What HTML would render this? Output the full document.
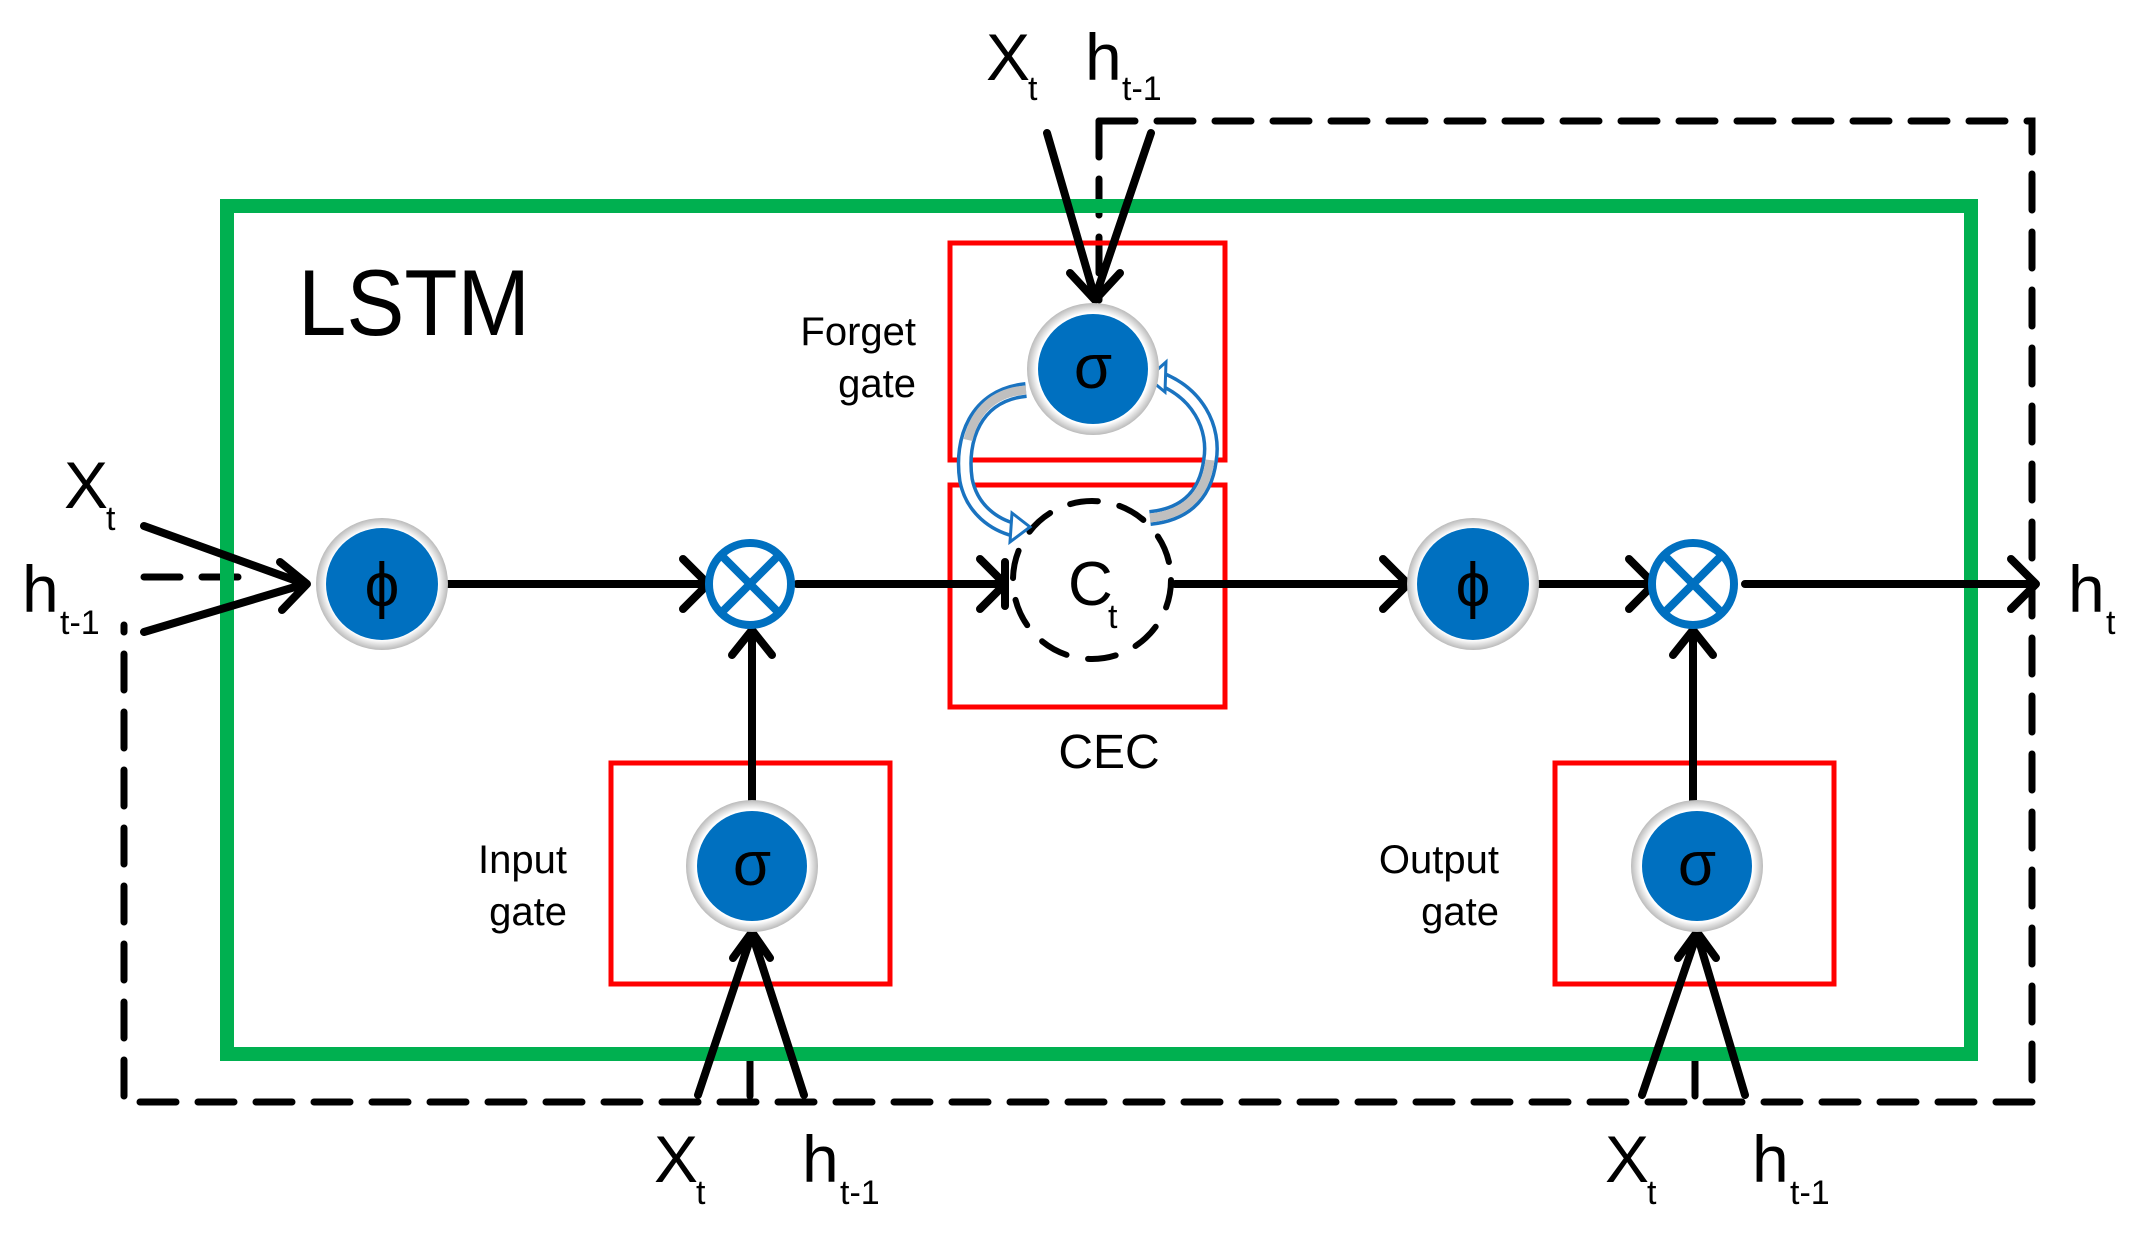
<!DOCTYPE html>
<html><head><meta charset="utf-8"><style>
html,body{margin:0;padding:0;background:#fff;}
svg{display:block;}
text{font-family:"Liberation Sans",sans-serif;fill:#000;}
</style></head><body>
<svg width="2143" height="1235" viewBox="0 0 2143 1235" xmlns="http://www.w3.org/2000/svg">
<defs>
<radialGradient id="ring" cx="50%" cy="50%" r="50%">
<stop offset="85%" stop-color="#fff"/><stop offset="100%" stop-color="#bbb"/>
</radialGradient>
</defs>
<!-- dashed outer box -->
<g stroke="#000" stroke-width="7" fill="none" stroke-dasharray="36,22" stroke-linecap="round">
<path d="M1099 121 L2032 121 L2032 1102 L124 1102 L124 625"/>
<path d="M1099 121 L1099 300"/>
<path d="M144 577 L240 577"/>
<path d="M750 1060 L750 1102"/>
<path d="M1695 1060 L1695 1102"/>
</g>
<!-- green box -->
<rect x="227" y="206" width="1744" height="848" fill="none" stroke="#00b050" stroke-width="14"/>
<!-- red boxes -->
<g fill="none" stroke="#ff0000" stroke-width="5">
<rect x="950" y="243" width="275" height="217"/>
<rect x="950" y="485" width="275" height="222"/>
<rect x="611" y="763" width="279" height="221"/>
<rect x="1555" y="763" width="279" height="221"/>
</g>
<!-- main lines -->
<g stroke="#000" stroke-width="8" fill="none" stroke-linecap="round" stroke-linejoin="round">
<path d="M447 584 L708 584 M683 559 L708 584 L683 609"/>
<path d="M797 584 L1005 584 M980 559 L1005 584 L980 609 M1005 562 L1005 606"/>
<path d="M1175 584 L1408 584 M1383 559 L1408 584 L1383 609"/>
<path d="M1539 584 L1654 584 M1629 559 L1654 584 L1629 609"/>
<path d="M1745 584 L2036 584 M2011 559 L2036 584 L2011 609"/>
<path d="M752 804 L752 632 M732 655 L752 630 L772 655"/>
<path d="M1693 804 L1693 632 M1673 655 L1693 630 L1713 655"/>
<path d="M144 526 L305 584 M144 632 L305 584 M280 562 L307 584 L282 610"/>
<path d="M1047 133 L1095 298 M1151 133 L1095 298 M1070 273 L1095 300 L1120 273"/>
<path d="M698 1095 L752 934 M804 1095 L752 934 M733 958 L752 932 L770 958"/>
<path d="M1642 1095 L1697 934 M1745 1095 L1697 934 M1678 958 L1697 932 L1716 958"/>
</g>
<!-- Ct dashed circle -->
<circle cx="1092" cy="580" r="79" fill="none" stroke="#000" stroke-width="6" stroke-dasharray="28,22" stroke-linecap="round"/>
<!-- curved arrows -->
<g fill="none" stroke-linecap="butt">
<path d="M1026 390 C975 395 960 440 966 480 C972 510 995 525 1015 530" stroke="#1a73c0" stroke-width="16"/>
<path d="M1026 390 C975 395 960 440 966 480 C972 510 995 525 1015 530" stroke="#fff" stroke-width="9"/>
<path d="M1026 390 C995 392 975 410 968 440" stroke="#bfbfbf" stroke-width="9"/>
<path d="M1150 375 C1200 390 1215 430 1210 460 C1205 500 1180 515 1150 518" stroke="#1a73c0" stroke-width="16"/>
<path d="M1150 375 C1200 390 1215 430 1210 460 C1205 500 1180 515 1150 518" stroke="#fff" stroke-width="9"/>
<path d="M1210 460 C1205 500 1180 515 1150 518" stroke="#bfbfbf" stroke-width="9"/>
</g>
<polygon points="1012,513 1030,527 1010,542" fill="#fff" stroke="#1a73c0" stroke-width="3"/>
<polygon points="1166,362 1148,378 1165,392" fill="#fff" stroke="#1a73c0" stroke-width="3"/>
<!-- nodes -->
<g>
<circle cx="382" cy="584" r="66" fill="url(#ring)"/><circle cx="382" cy="584" r="56" fill="#0070c0"/>
<circle cx="1473" cy="584" r="66" fill="url(#ring)"/><circle cx="1473" cy="584" r="56" fill="#0070c0"/>
<circle cx="1093" cy="369" r="66" fill="url(#ring)"/><circle cx="1093" cy="369" r="55" fill="#0070c0"/>
<circle cx="752" cy="866" r="66" fill="url(#ring)"/><circle cx="752" cy="866" r="55" fill="#0070c0"/>
<circle cx="1697" cy="866" r="66" fill="url(#ring)"/><circle cx="1697" cy="866" r="55" fill="#0070c0"/>
</g>
<g fill="#fff" stroke="#0070c0" stroke-width="8">
<circle cx="750" cy="584" r="41"/>
<circle cx="1693" cy="584" r="41"/>
</g>
<g stroke="#0070c0" stroke-width="8">
<path d="M721 555 L779 613 M779 555 L721 613"/>
<path d="M1664 555 L1722 613 M1722 555 L1664 613"/>
</g>
<g font-size="62" text-anchor="middle">
<text x="382" y="606">ϕ</text>
<text x="1473" y="606">ϕ</text>
<text x="1093" y="388">σ</text>
<text x="752" y="885">σ</text>
<text x="1697" y="885">σ</text>
</g>
<!-- labels -->
<text x="298" y="335" font-size="94" textLength="232" lengthAdjust="spacingAndGlyphs">LSTM</text>
<g font-size="40" text-anchor="end">
<text x="916" y="345">Forget</text><text x="916" y="397">gate</text>
<text x="567" y="873">Input</text><text x="567" y="925">gate</text>
<text x="1499" y="873">Output</text><text x="1499" y="925">gate</text>
</g>
<text x="1109" y="768" font-size="48" text-anchor="middle">CEC</text>
<text x="1068" y="605" font-size="62">C</text><text x="1108" y="628" font-size="34">t</text>
<g font-size="66">
<text x="986" y="80">X</text><text x="1028" y="100" font-size="34">t</text>
<text x="1085" y="80">h</text><text x="1122" y="100" font-size="34">t-1</text>
<text x="64" y="508">X</text><text x="106" y="530" font-size="34">t</text>
<text x="22" y="612">h</text><text x="60" y="634" font-size="34">t-1</text>
<text x="654" y="1182">X</text><text x="696" y="1204" font-size="34">t</text>
<text x="802" y="1182">h</text><text x="840" y="1204" font-size="34">t-1</text>
<text x="1605" y="1182">X</text><text x="1647" y="1204" font-size="34">t</text>
<text x="1752" y="1182">h</text><text x="1790" y="1204" font-size="34">t-1</text>
<text x="2068" y="612">h</text><text x="2106" y="634" font-size="34">t</text>
</g>
</svg>
</body></html>
